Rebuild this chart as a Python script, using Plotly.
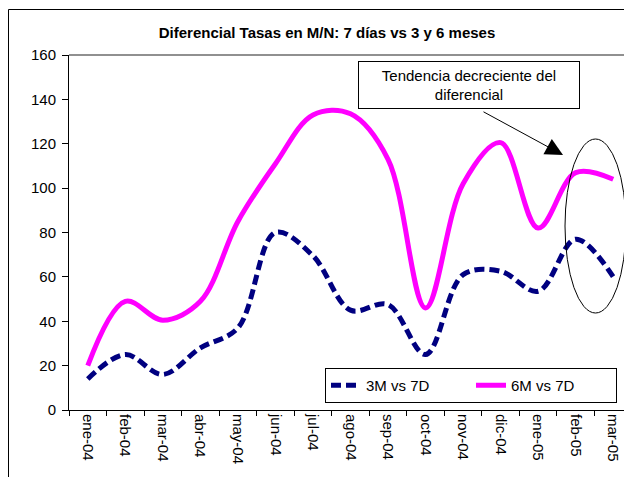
import plotly.graph_objects as go

months = ["ene-04", "feb-04", "mar-04", "abr-04", "may-04", "jun-04", "jul-04",
          "ago-04", "sep-04", "oct-04", "nov-04", "dic-04", "ene-05", "feb-05", "mar-05"]
tres_m_vs_7d = [14, 25, 16, 28, 37, 80, 69.5, 45, 47.5, 25, 61, 62.5, 53.5, 77, 60]
seis_m_vs_7d = [20, 49, 40.5, 49, 85, 111, 133, 133.5, 113, 46, 102, 120.5, 82, 107, 104]
y_ticks = [0, 20, 40, 60, 80, 100, 120, 140, 160]

FONT = "Liberation Sans, Arial, sans-serif"

# page body has an 8px margin: the figure starts at (8, 8) in the window
OFF = 8
W, H = 632 - OFF, 477 - OFF
L, R, T, B = 69 - OFF, 0, 55 - OFF, 477 - 410
PW, PH = W - L - R, H - T - B


def px(xp):
    """window x pixel -> paper x"""
    return (xp - OFF - L) / PW


def py(yp):
    """window y pixel -> paper y"""
    return (H - B - (yp - OFF)) / PH


fig = go.Figure()
fig.add_trace(go.Scatter(
    x=months, y=tres_m_vs_7d, name="3M vs 7D", mode="lines",
    line=dict(color="#000080", width=5, dash="10px,5px", shape="spline", smoothing=1),
))
fig.add_trace(go.Scatter(
    x=months, y=seis_m_vs_7d, name="6M vs 7D", mode="lines",
    line=dict(color="#FF00FF", width=5, shape="spline", smoothing=1),
))

fig.update_layout(
    width=W, height=H,
    margin=dict(l=L, r=R, t=T, b=B, pad=0, autoexpand=False),
    paper_bgcolor="white", plot_bgcolor="white",
    font=dict(family=FONT, size=15, color="black"),
    title=dict(text="<b>Diferencial Tasas en M/N: 7 días vs 3 y 6 meses</b>",
               x=(327 - OFF) / W, xanchor="center", y=1 - (33 - OFF) / H, yanchor="middle",
               font=dict(family=FONT, size=15, color="black")),
    xaxis=dict(type="category", range=[-0.5, 14.5], tickson="boundaries",
               ticks="outside", ticklen=5, tickcolor="black", tickwidth=1,
               showline=True, linecolor="black", linewidth=1, automargin=False,
               showgrid=False, zeroline=False, tickangle=90,
               tickfont=dict(family=FONT, size=15, color="black")),
    yaxis=dict(range=[0, 160], tickvals=y_ticks, ticks="outside", ticklen=6,
               tickcolor="black", tickwidth=1, showline=True, linecolor="black",
               linewidth=1, showgrid=False, zeroline=False, automargin=False,
               ticklabelstandoff=3,
               tickfont=dict(family=FONT, size=15, color="black")),
    legend=dict(orientation="h", x=px(617), y=py(368), xanchor="right", yanchor="top",
                bgcolor="white", bordercolor="black", borderwidth=1,
                entrywidth=100, font=dict(family=FONT, size=15, color="black")),
    showlegend=True,
)

shapes = [
    # plot area top border
    dict(type="line", xref="paper", yref="paper", x0=0, x1=1, y0=1, y1=1,
         line=dict(color="#909090", width=2)),
    # outer chart border (left and top)
    dict(type="line", xref="paper", yref="paper", x0=px(8.5), x1=px(8.5), y0=py(490), y1=py(9.5),
         line=dict(color="black", width=1)),
    dict(type="line", xref="paper", yref="paper", x0=px(8.5), x1=px(640), y0=py(9.5), y1=py(9.5),
         line=dict(color="black", width=1)),
    # ellipse
    dict(type="circle", xref="paper", yref="paper", x0=px(565), x1=px(626),
         y0=py(313), y1=py(139), line=dict(color="black", width=1)),
]
fig.update_layout(shapes=shapes)

fig.add_annotation(
    xref="paper", yref="paper", x=px(469), y=py(85), xanchor="center", yanchor="middle",
    text="Tendencia decreciente del<br>diferencial", showarrow=False,
    width=216, height=42, borderpad=2, bordercolor="black", borderwidth=1,
    bgcolor="white", font=dict(family=FONT, size=15, color="black"),
)
fig.add_annotation(
    xref="paper", yref="paper", x=px(563), y=py(155), ax=-81, ay=-44,
    text="", showarrow=True, arrowhead=2, arrowsize=3.5, arrowwidth=1,
    arrowcolor="black",
)

fig.write_html("out.html")
